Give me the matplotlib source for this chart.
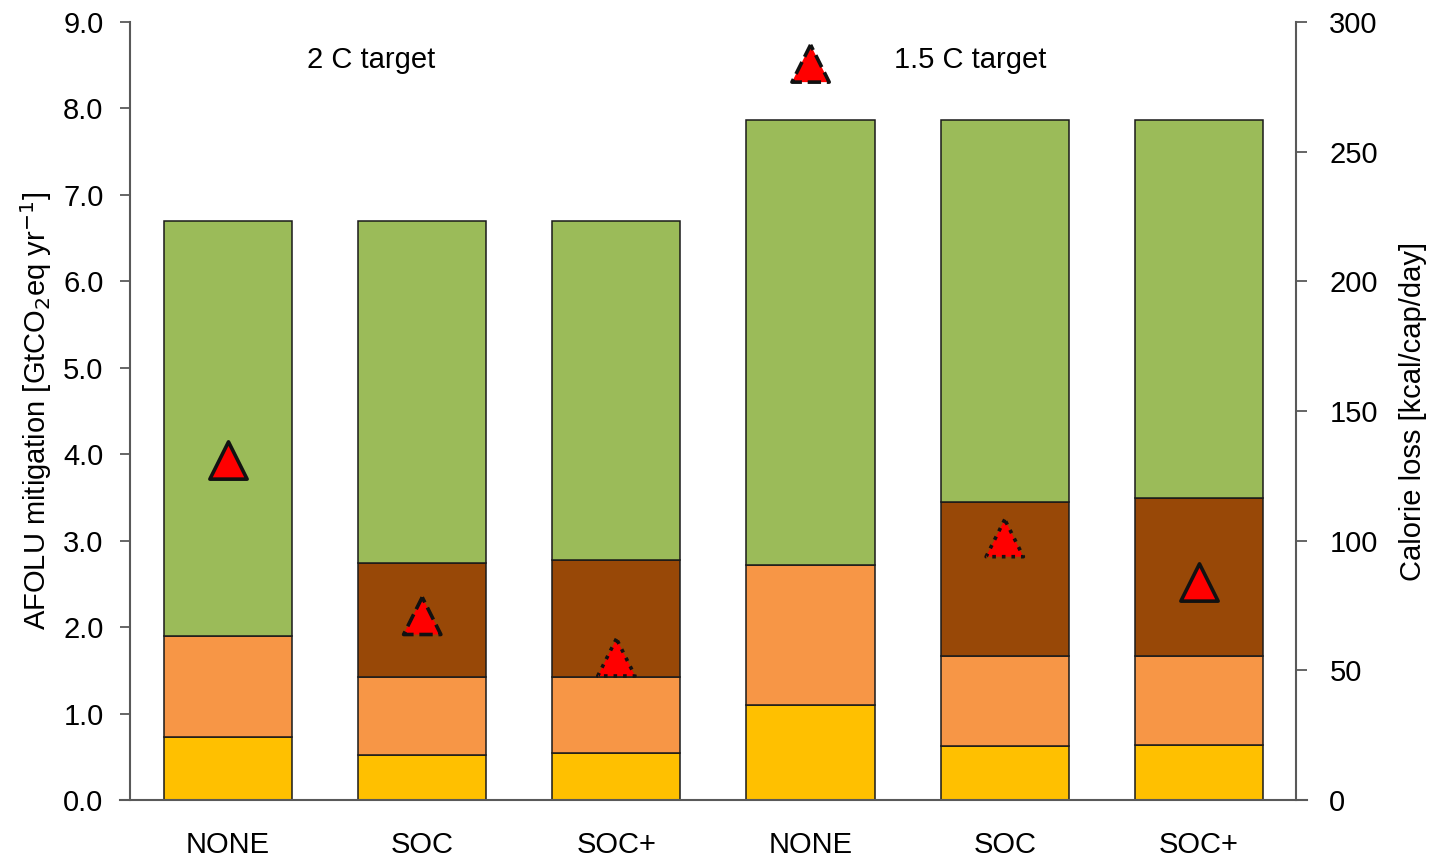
import matplotlib
matplotlib.use("Agg")
import matplotlib.pyplot as plt
from matplotlib.lines import Line2D
import numpy as np

plt.rcParams['font.family'] = ['Liberation Sans', 'DejaVu Sans']

# Scenario categories (two targets, three SOC options each)
categories = ["NONE", "SOC", "SOC+", "NONE", "SOC", "SOC+"]

# Stacked AFOLU mitigation components [GtCO2eq/yr]
seg_yellow = [0.73, 0.52, 0.54, 1.10, 0.62, 0.64]
seg_orange = [1.17, 0.90, 0.88, 1.62, 1.05, 1.03]
seg_brown = [0.00, 1.32, 1.36, 0.00, 1.78, 1.82]
seg_green = [4.80, 3.96, 3.92, 5.15, 4.42, 4.38]

# Calorie loss [kcal/cap/day] per scenario, with marker edge style
calorie_loss = [131, 71, 55, 284, 101, 84]
marker_styles = ["-", "--", ":", "--", ":", "-"]

target_labels = ["2 C target", "1.5 C target"]

colors = ["#FFC000", "#F79646", "#984807", "#9BBB59"]
spine_col = "#595959"
fs = 21

fig = plt.figure(figsize=(14.31, 8.57), dpi=100)
ax = fig.add_axes([130 / 1431, 57 / 857, 1166 / 1431, 778 / 857])
x = np.arange(len(categories))
width = 0.66

bottom = np.zeros(len(categories))
for seg, col in zip([seg_yellow, seg_orange, seg_brown, seg_green], colors):
    seg = np.array(seg)
    mask = seg > 0
    ax.bar(x[mask], seg[mask], width, bottom=bottom[mask], color=col,
           edgecolor="#1a1a1a", linewidth=1.1, zorder=2)
    bottom += seg

ax.set_xlim(-0.505, 5.5)
ax.set_ylim(0, 9.0)
ax.set_yticks(np.arange(0, 9.01, 1.0))
ax.set_yticklabels([f"{v:.1f}" for v in np.arange(0, 9.01, 1.0)])
ax.set_xticks(x)
ax.set_xticklabels(categories)
ax.tick_params(axis="x", length=0, pad=22, labelsize=fs)
ax.tick_params(axis="y", length=7, width=1.3, color=spine_col, pad=12,
               labelsize=fs, direction="out")
ax.set_ylabel("AFOLU mitigation [GtCO$_2$eq yr$^{-1}$]", fontsize=fs,
              labelpad=7)

for s in ["top", "right", "bottom"]:
    ax.spines[s].set_visible(False)
ax.spines["left"].set_color(spine_col)
ax.spines["left"].set_linewidth(1.5)

# Baseline extending across both tick regions
ax.add_line(Line2D([-0.0086, 1.0095], [0, 0], transform=ax.transAxes,
                   color=spine_col, linewidth=1.5, clip_on=False, zorder=5))

ax.text(0.736, 8.56, target_labels[0], fontsize=fs, ha="center", va="center")
ax.text(3.82, 8.56, target_labels[1], fontsize=fs, ha="center", va="center")

ax2 = ax.twinx()
ax2.set_ylim(0, 300)
ax2.set_yticks(np.arange(0, 301, 50))
for s in ["top", "left", "bottom"]:
    ax2.spines[s].set_visible(False)
ax2.spines["right"].set_color(spine_col)
ax2.spines["right"].set_linewidth(1.5)
ax2.tick_params(axis="y", length=8, width=1.3, color=spine_col, pad=16,
                labelsize=fs, direction="out")
ax2.set_ylabel("Calorie loss [kcal/cap/day]", fontsize=fs, labelpad=15)

for xi, val, ls in zip(x, calorie_loss, marker_styles):
    ax2.scatter([xi], [val], marker="^", s=720, facecolor="#FF0000",
                edgecolor="#111111", linewidths=2.6, linestyle=ls, zorder=6)

fig.savefig("out.png", dpi=100)
